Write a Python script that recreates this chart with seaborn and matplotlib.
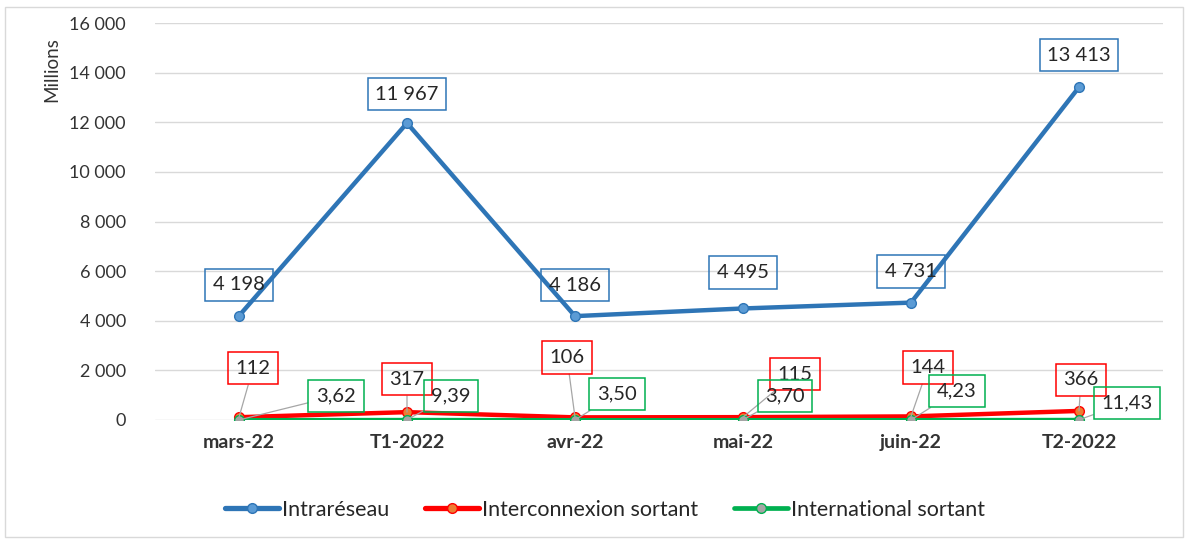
import matplotlib
matplotlib.use("Agg")
import matplotlib.pyplot as plt
import seaborn as sns
import pandas as pd
from matplotlib.patches import Rectangle

categories = ["mars-22", "T1-2022", "avr-22", "mai-22", "juin-22", "T2-2022"]
intrareseau = [4198, 11967, 4186, 4495, 4731, 13413]
interconnexion = [112, 317, 106, 115, 144, 366]
international = [3.62, 9.39, 3.50, 3.70, 4.23, 11.43]
series_names = ["Intraréseau", "Interconnexion sortant", "International sortant"]
yticks = [0, 2000, 4000, 6000, 8000, 10000, 12000, 14000, 16000]

sns.set_style("white")
plt.rcParams["font.family"] = ["Lato", "DejaVu Sans"]

rows = []
for name, vals in zip(series_names, [intrareseau, interconnexion, international]):
    for c, v in zip(categories, vals):
        rows.append({"cat": c, "val": v, "serie": name})
df = pd.DataFrame(rows)
df["x"] = df["cat"].map({c: i for i, c in enumerate(categories)})

line_colors = {"Intraréseau": "#2e75b6", "Interconnexion sortant": "#ff0000", "International sortant": "#00b050"}
face_colors = {"Intraréseau": "#5b9bd5", "Interconnexion sortant": "#ed7d31", "International sortant": "#a5a5a5"}
widths = {"Intraréseau": 3.2, "Interconnexion sortant": 3.2, "International sortant": 2.8}

fig = plt.figure(figsize=(11.88, 5.42), dpi=100)
ax = fig.add_axes([155/1188, 1-420/542, (1163-155)/1188, (420-23)/542])

for name in series_names:
    sub = df[df["serie"] == name]
    sns.lineplot(data=sub, x="x", y="val", ax=ax, color=line_colors[name],
                 linewidth=widths[name], marker="o", markersize=7,
                 markerfacecolor=face_colors[name], markeredgecolor=line_colors[name],
                 markeredgewidth=1, label=name, legend=False)

ax.set_xlim(-0.5, 5.5)
ax.set_ylim(0, 16000)
ax.set_yticks(yticks)
ax.set_yticklabels([f"{t:,}".replace(",", " ") for t in yticks], fontsize=13, color="#333333")
ax.set_xticks(range(len(categories)))
ax.set_xticklabels(categories, fontsize=14, fontweight="bold", color="#333333")
ax.tick_params(axis="y", length=0, pad=21)
ax.tick_params(axis="x", length=0, pad=10)
ax.grid(axis="y", color="#d9d9d9", linewidth=1)
ax.set_axisbelow(True)
for s in ax.spines.values():
    s.set_visible(False)
ax.set_xlabel("")
ax.set_ylabel("")

fig.text(52/1188, 1-70/542, "Millions", rotation=90, ha="center", va="center", fontsize=13.5, color="#333333")

# data labels (offsets in pixels)
blue_off = [(0, 31), (0, 29), (0, 31), (0, 36), (0, 31), (0, 32)]
red_off = [(14, 49), (0, 33), (-8, 60), (52, 43), (17, 49), (2, 31)]
green_off = [(97, 24), (44, 24), (42, 26), (42, 24), (46, 29), (48, 17)]

def fmt_int(v):
    return f"{int(round(v)):,}".replace(",", " ")

def fmt_dec(v):
    return f"{v:.2f}".replace(".", ",")

def label(vals, offs, color, fmt, leader):
    for i, (v, off) in enumerate(zip(vals, offs)):
        arrow = dict(arrowstyle="-", color="#a6a6a6", lw=0.9, shrinkA=0, shrinkB=0) if leader else None
        ax.annotate(fmt(v), xy=(i, v), xytext=off, textcoords="offset pixels",
                    ha="center", va="center", fontsize=14.5, color="#262626",
                    bbox=dict(boxstyle="square,pad=0.38", fc="none", ec=color, lw=1.1),
                    arrowprops=arrow, zorder=5)

label(intrareseau, blue_off, "#2e75b6", fmt_int, False)
label(interconnexion, red_off, "#ff0000", fmt_int, True)
label(international, green_off, "#00b050", fmt_dec, True)

handles = [plt.Line2D([], [], color=line_colors[n], lw=widths[n] + 0.6, marker="o", markersize=7,
                      markerfacecolor=face_colors[n], markeredgecolor=line_colors[n]) for n in series_names]
fig.legend(handles, series_names, loc="center", bbox_to_anchor=(605/1188, 1-510/542), ncol=3,
           frameon=False, fontsize=15.5, handlelength=2.5, handletextpad=0.12, columnspacing=1.7)

fig.patches.append(Rectangle((5/1188, 1-537/542), 1178/1188, 530/542, transform=fig.transFigure,
                             fill=False, ec="#d9d9d9", lw=1))

fig.savefig("out.png", dpi=100)
